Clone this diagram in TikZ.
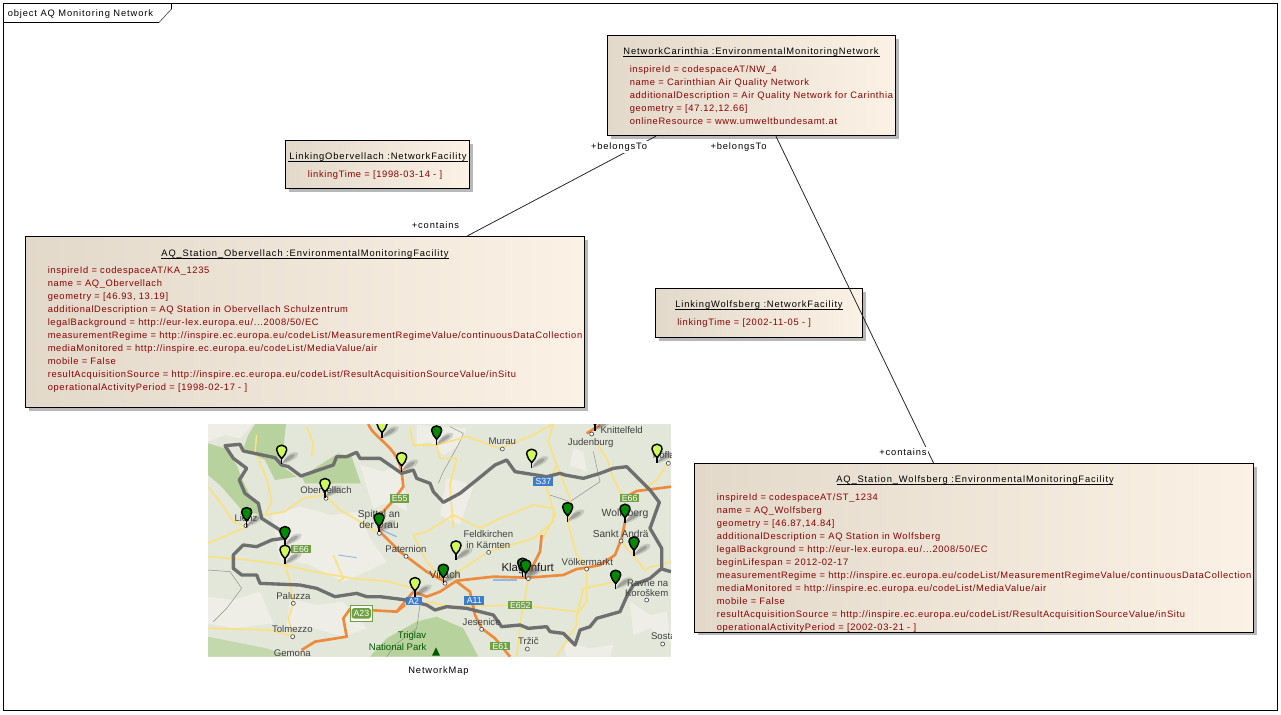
\documentclass[tikz,border=0pt]{standalone}
\usepackage{fontspec}
\setmainfont{Liberation Sans}
\newfontfamily\umlfont[LetterSpace=7]{Liberation Sans}
\newfontfamily\umltitle[LetterSpace=9.5]{Liberation Sans}
\usetikzlibrary{shadows}
\definecolor{attrred}{HTML}{8B0000}
\definecolor{boxL}{HTML}{E2D9CB}
\definecolor{boxM}{HTML}{F6EDDF}
\definecolor{boxR}{HTML}{FBF2E5}
\definecolor{mapbg}{HTML}{E2E7D9}
\definecolor{mappale}{HTML}{F3F1ED}
\definecolor{forest}{HTML}{B7D29C}
\definecolor{roady}{HTML}{FBE07E}
\definecolor{roado}{HTML}{EE8A3C}
\definecolor{border}{HTML}{6F6F6F}
\definecolor{pinY}{HTML}{CFFB5A}
\definecolor{pinG}{HTML}{008A00}
\definecolor{shieldG}{HTML}{6FA044}
\definecolor{shieldB}{HTML}{3D7CCB}
\tikzset{
 umlbox/.style={draw=black,line width=.8pt,inner sep=0pt,left color=boxL,middle color=boxM,right color=boxR,
   drop shadow={shadow xshift=2.4pt,shadow yshift=-2.4pt,opacity=1,fill=black!28}},
 titletext/.style={inner sep=0pt,anchor=base,font=\umltitle\fontsize{7}{9}\selectfont,text=black},
 attrtext/.style={inner sep=0pt,anchor=base west,font=\umlfont\fontsize{7}{9}\selectfont,text=attrred},
 rolelabel/.style={inner sep=1pt,fill=white,font=\umltitle\fontsize{7}{9}\selectfont,text=black},
 conn/.style={draw=black!85,line width=.6pt},
 placename/.style={inner sep=0pt,font=\fontsize{7.2}{8}\selectfont,text=black!75},
 shield/.style={inner sep=0pt,font=\fontsize{6.6}{8}\selectfont,text=white,minimum height=6.5pt},
 road/.style={draw=roady,line width=1.2pt,line join=round},
 hiway/.style={draw=roado,line width=2pt,line join=round},
 minor/.style={draw=black!45,line width=.35pt},
 town/.style={draw=black!70,fill=white,line width=.5pt},
 pale/.style={fill=mappale,fill opacity=.75}
}
\newcommand{\mappin}[3]{%
 \begin{scope}[shift={(#1,#2)}]
  \fill[black!65,opacity=.22] (0,0) .. controls (8,-22) and (30,-44) .. (50,-34) .. controls (52,-20) and (24,-6) .. (0,0) -- cycle;
  \fill[black!65,opacity=.35] (2,-4) .. controls (12,-20) and (26,-32) .. (40,-30) .. controls (40,-20) and (20,-10) .. (2,-4) -- cycle;
  \draw[line width=1.1pt,fill=#3] (0,-17) .. controls (-6,-26) and (-15,-32) .. (-15,-43) .. controls (-15,-62) and (15,-62) .. (15,-43) .. controls (15,-32) and (6,-26) .. (0,-17) -- cycle;
  \draw[line width=1.2pt] (0,-22) -- (0,0);
 \end{scope}}
\begin{document}
\begin{tikzpicture}[x=.75pt,y=-.75pt]
\useasboundingbox (0,0) rectangle (1281,714);
\fill[white] (0,0) rectangle (1281,714);
% frame
\draw[line width=.8pt] (3.5,3.5) rectangle (1277.5,710.5);
\draw[line width=.8pt] (3.5,22.5) -- (159,22.5);
\draw[line width=.6pt,black!60] (159,22.5) -- (171.5,9);
\draw[line width=.8pt] (171.5,9) -- (171.5,3.5);
\node[inner sep=0pt,anchor=base west,font=\umltitle\fontsize{7}{9}\selectfont] (frametitle) at (7.5,16) {object AQ Monitoring Network};

% boxes
\node[umlbox,minimum width=216.2pt,minimum height=75.1pt] (net) at (751.6,85.6) {};
\node[umlbox,minimum width=138pt,minimum height=36pt] (linkO) at (377.5,164.5) {};
\node[umlbox,minimum width=419.25pt,minimum height=128.25pt] (ober) at (305,322) {};
\node[umlbox,minimum width=155.25pt,minimum height=36.75pt] (linkW) at (759,313) {};
\node[umlbox,minimum width=419.25pt,minimum height=126.4pt] (wolf) at (974.4,547.8) {};

% connectors
\path[conn] (net) -- (ober);
\path[conn] (net) -- (wolf);
\node[rolelabel] (r1) at (619,147) {+belongsTo};
\node[rolelabel] (r2) at (738.5,147) {+belongsTo};
\node[rolelabel] (r3) at (435.5,225) {+contains};
\node[rolelabel] (r4) at (903,452) {+contains};

% net text
\node[titletext] (nt) at (751,54) {NetworkCarinthia :EnvironmentalMonitoringNetwork};
\draw[line width=.6pt] (623,56.5) -- (879.5,56.5);
\node[attrtext] (n1) at (629.5,72.3) {inspireId = codespaceAT/NW\_4};
\node[attrtext] (n2) at (629.5,85.3) {name = Carinthian Air Quality Network};
\node[attrtext] (n3) at (629.5,98.3) {additionalDescription = Air Quality Network for Carinthia};
\node[attrtext] (n4) at (629.5,111.3) {geometry = [47.12,12.66]};
\node[attrtext] (n5) at (629.5,124.3) {onlineResource = www.umweltbundesamt.at};

% linkO text
\node[titletext] (lot) at (378,159.3) {LinkingObervellach :NetworkFacility};
\draw[line width=.6pt] (288,161.5) -- (468,161.5);
\node[attrtext] (lo1) at (307.5,177) {linkingTime = [1998-03-14 - ]};

% linkW text
\node[titletext] (lwt) at (759,307) {LinkingWolfsberg :NetworkFacility};
\draw[line width=.6pt] (675,309.5) -- (843,309.5);
\node[attrtext] (lw1) at (677,325) {linkingTime = [2002-11-05 - ]};

% ober text
\node[titletext] (ot) at (305,256) {AQ\_Station\_Obervellach :EnvironmentalMonitoringFacility};
\draw[line width=.6pt] (161,258.5) -- (449,258.5);
\node[attrtext] (o1) at (47.5,273.3) {inspireId = codespaceAT/KA\_1235};
\node[attrtext] (o2) at (47.5,286.3) {name = AQ\_Obervellach};
\node[attrtext] (o3) at (47.5,299.3) {geometry = [46.93, 13.19]};
\node[attrtext] (o4) at (47.5,312.3) {additionalDescription = AQ Station in Obervellach Schulzentrum};
\node[attrtext] (o5) at (47.5,325.3) {legalBackground = http://eur-lex.europa.eu/...2008/50/EC};
\node[attrtext] (o6) at (47.5,338.3) {measurementRegime = http://inspire.ec.europa.eu/codeList/MeasurementRegimeValue/continuousDataCollection};
\node[attrtext] (o7) at (47.5,351.3) {mediaMonitored = http://inspire.ec.europa.eu/codeList/MediaValue/air};
\node[attrtext] (o8) at (47.5,364.3) {mobile = False};
\node[attrtext] (o9) at (47.5,377.3) {resultAcquisitionSource = http://inspire.ec.europa.eu/codeList/ResultAcquisitionSourceValue/inSitu};
\node[attrtext] (o10) at (47.5,390.3) {operationalActivityPeriod = [1998-02-17 - ]};

% wolf text
\node[titletext] (wt) at (975,482) {AQ\_Station\_Wolfsberg :EnvironmentalMonitoringFacility};
\draw[line width=.6pt] (837,484.5) -- (1113,484.5);
\node[attrtext] (w1) at (716.5,500) {inspireId = codespaceAT/ST\_1234};
\node[attrtext] (w2) at (716.5,513) {name = AQ\_Wolfsberg};
\node[attrtext] (w3) at (716.5,526) {geometry = [46.87,14.84]};
\node[attrtext] (w4) at (716.5,539) {additionalDescription = AQ Station in Wolfsberg};
\node[attrtext] (w5) at (716.5,552) {legalBackground = http://eur-lex.europa.eu/...2008/50/EC};
\node[attrtext] (w6) at (716.5,565) {beginLifespan = 2012-02-17};
\node[attrtext] (w7) at (716.5,578) {measurementRegime = http://inspire.ec.europa.eu/codeList/MeasurementRegimeValue/continuousDataCollection};
\node[attrtext] (w8) at (716.5,591) {mediaMonitored = http://inspire.ec.europa.eu/codeList/MediaValue/air};
\node[attrtext] (w9) at (716.5,604) {mobile = False};
\node[attrtext] (w10) at (716.5,617) {resultAcquisitionSource = http://inspire.ec.europa.eu/codeList/ResultAcquisitionSourceValue/inSitu};
\node[attrtext] (w11) at (716.5,630) {operationalActivityPeriod = [2002-03-21 - ]};

\node[inner sep=0pt,anchor=base,font=\umltitle\fontsize{7}{9}\selectfont] (maplabel) at (438.5,673) {NetworkMap};

% map
\begin{scope}[shift={(200,415)},x=.25pt,y=-.25pt]
 \clip (24,27) rectangle (1413,725);
 \fill[mapbg] (24,27) rectangle (1413,725);
 % pale patches
 \fill[pale] (215,300) -- (300,275) -- (395,300) -- (480,290) -- (510,370) -- (560,440) -- (500,470) -- (430,500) -- (330,450) -- (240,430) -- cycle;
 \fill[pale] (270,550) -- (350,570) -- (430,560) -- (500,640) -- (430,665) -- (340,640) -- (260,640) -- cycle;
 \fill[pale] (480,150) -- (550,170) -- (610,140) -- (620,290) -- (570,260) -- (520,280) -- cycle;
 \fill[pale] (740,190) -- (790,200) -- (820,215) -- (800,270) -- (780,330) -- (720,300) -- cycle;
 \fill[pale] (1120,100) -- (1150,110) -- (1160,170) -- (1110,150) -- cycle;
 \fill[pale] (1090,680) -- (1170,700) -- (1240,690) -- (1230,725) -- (1100,725) -- cycle;
 \fill[pale] (24,545) -- (100,555) -- (180,530) -- (220,625) -- (100,640) -- (24,625) -- cycle;
 \fill[pale] (1290,560) -- (1350,600) -- (1400,590) -- (1413,680) -- (1350,640) -- (1300,660) -- cycle;
 \fill[pale] (650,30) -- (800,40) -- (780,90) -- (730,120) -- (690,80) -- (650,90) -- cycle;
 \fill[pale] (24,27) -- (160,27) -- (120,70) -- (75,60) -- (24,80) -- cycle;
 % forest
 \fill[forest] (165,27) -- (258,27) -- (250,100) -- (240,150) -- (290,185) -- (225,195) -- (195,135) -- (165,120) -- (130,100) -- (145,60) -- cycle;
 \fill[forest] (305,185) -- (415,115) -- (455,125) -- (482,205) -- (315,205) -- cycle;
 \fill[forest] (24,85) -- (75,100) -- (110,150) -- (125,190) -- (150,240) -- (170,260) -- (190,300) -- (130,290) -- (60,210) -- (24,180) -- cycle;
 \fill[forest] (510,725) -- (560,670) -- (650,620) -- (710,605) -- (790,640) -- (835,725) -- cycle;
 \fill[forest!70!mapbg] (24,665) -- (200,700) -- (270,725) -- (24,725) -- cycle;
 % minor lines
 \draw[minor] (750,35) -- (790,55) -- (780,80) -- (730,170) -- (715,205);
 \draw[minor] (24,465) -- (90,470) -- (125,520) -- (80,580) -- (40,620);
 \draw[minor] (660,570) -- (650,640) -- (585,690) -- (560,725);
 \draw[minor] (1180,110) -- (1200,200) -- (1110,260) -- (1050,240);
 % yellow roads
 \draw[road] (24,215) -- (60,260) -- (100,320) -- (140,335) -- (60,370) -- (24,385);
 \draw[road] (170,60) -- (165,110) -- (200,190) -- (215,260) -- (195,300) -- (255,290) -- (310,250) -- (375,240) -- (420,285) -- (480,320) -- (530,350);
 \draw[road] (320,35) -- (340,85) -- (335,125);
 \draw[road] (24,425) -- (120,432) -- (255,450) -- (340,470) -- (470,492) -- (560,498) -- (640,520);
 \draw[road] (255,450) -- (270,500) -- (280,565) -- (265,610) -- (280,665) -- (210,645) -- (24,640);
 \draw[road] (400,420) -- (430,490) -- (415,500);
 \draw[road] (680,350) -- (760,300) -- (840,340) -- (900,310) -- (1000,270) -- (1060,280) -- (1060,320) -- (1000,370) -- (865,410) -- (745,490);
 \draw[road] (630,40) -- (640,90) -- (710,90) -- (720,130) -- (770,130) -- (750,210) -- (760,340);
 \draw[road] (710,90) -- (800,65) -- (900,100) -- (1000,60) -- (1060,27);
 \draw[road] (1060,27) -- (1045,80) -- (1070,150) -- (1110,250) -- (1105,330) -- (1130,420) -- (1160,460);
 \draw[road] (1070,150) -- (1040,220) -- (1065,300) -- (1030,370);
 \draw[road] (985,490) -- (965,600) -- (950,725);
 \draw[road] (1160,462) -- (1160,560) -- (1130,600) -- (1130,630) -- (1070,725);
 \draw[road] (1130,600) -- (1150,520) -- (1250,500);
 \draw[road] (680,560) -- (760,575) -- (960,570) -- (1130,590);
 \draw[road] (1195,90) -- (1220,130) -- (1240,190) -- (1265,240);
 \draw[road] (1400,150) -- (1370,195) -- (1340,215);
 \draw[road] (680,350) -- (640,360) -- (680,440) -- (735,505);
 \draw[road] (1340,460) -- (1413,440);
 \draw[road] (1263,378) -- (1340,470);
 % lake
 \draw[draw=shieldB!55,line width=1pt] (545,345) -- (590,365);
 \draw[draw=shieldB!55,line width=1pt] (880,495) -- (950,495);
 \draw[draw=shieldB!55,line width=.7pt] (415,420) -- (470,428);
 % highways
 \draw[hiway] (505,27) .. controls (520,70) and (590,90) .. (605,170) -- (610,215) -- (575,262) -- (540,300) -- (540,350) -- (600,410) -- (680,470) -- (735,500);
 \draw[hiway] (590,590) -- (640,530) -- (680,545) -- (720,530) -- (770,497) -- (880,485) -- (985,488) -- (1090,480) -- (1130,462) -- (1160,458) -- (1200,450) -- (1245,420) -- (1265,370) -- (1275,320);
 \draw[hiway] (1025,360) -- (1020,410) -- (990,470);
 \draw[hiway] (770,500) -- (810,530) -- (825,600) -- (845,640) -- (885,670) -- (930,725);
 \draw[hiway] (305,705) -- (345,680) -- (440,665) -- (430,610) -- (450,582) -- (590,590) -- (615,570);
 \draw[hiway] (1160,55) -- (1200,30);
 \draw[hiway] (1270,250) -- (1310,228) -- (1360,222) -- (1413,215);
 % border
 \draw[draw=border,line width=2.5pt,line join=round] (75,92) -- (120,88) -- (130,108) -- (225,128) -- (245,150) -- (265,155) -- (303,183) -- (400,150) -- (410,125) -- (440,125) -- (470,112) -- (480,130) -- (540,130) -- (605,175) -- (640,165) -- (650,190) -- (690,205) -- (700,230) -- (730,262) -- (780,235) -- (830,195) -- (885,150) -- (920,135) -- (945,170) -- (1040,185) -- (1080,175) -- (1095,180) -- (1150,190) -- (1200,175) -- (1240,160) -- (1280,155) -- (1350,225) -- (1378,262) -- (1350,340) -- (1385,400) -- (1385,460) -- (1350,490) -- (1300,510) -- (1280,545) -- (1260,590) -- (1190,610) -- (1170,635) -- (1140,645) -- (1125,690) -- (1090,655) -- (1050,650) -- (1040,635) -- (985,640) -- (960,630) -- (905,635) -- (880,600) -- (800,580) -- (740,575) -- (705,585) -- (680,570) -- (620,555) -- (540,545) -- (500,545) -- (470,535) -- (405,545) -- (350,520) -- (300,510) -- (180,505) -- (170,480) -- (125,480) -- (100,460) -- (100,420) -- (130,390) -- (170,395) -- (215,375) -- (250,370) -- (240,345) -- (185,310) -- (175,265) -- (135,235) -- (118,195) -- (140,160) -- (100,130) -- cycle;
 \draw[draw=border,line width=2.5pt] (1385,462) -- (1413,470);
 % towns
 \foreach \tx/\ty in {378/250,538/355,618/424,735/505,985/491,1160/462,1263/378,866/412,907/102,1175/57,1405/145,280/565,278/665,845/643,982/702,1340/555,1388/687,138/332}
   {\draw[town] (\tx,\ty) circle (6);}
 % shields
 \node[shield,fill=shieldG,minimum width=14.5pt] (sE55) at (599,250) {E55};
 \node[shield,fill=shieldG,minimum width=14.5pt] (sE66a) at (303,402) {E66};
 \node[shield,fill=shieldG,minimum width=14.5pt] (sE66b) at (1289,249) {E66};
 \node[shield,fill=shieldB,minimum width=15pt] (sS37) at (1030,200) {S37};
 \node[shield,fill=shieldB,minimum width=12pt] (sA2) at (641,558) {A2};
 \node[shield,fill=shieldB,minimum width=15pt] (sA11) at (823,556) {A11};
 \node[shield,fill=shieldG,minimum width=18pt] (sE652) at (961,570) {E652};
 \node[shield,fill=shieldG,minimum width=15pt] (sE61) at (901,693) {E61};
 \draw[shieldG,fill=white,line width=.5pt] (450,572) rectangle (518,618);
 \node[shield,fill=shieldG,rounded corners=2pt,minimum width=14.5pt,minimum height=8pt] (sA23) at (484,595) {A23};
 % tree
 \fill[green!35!black] (708,697) -- (720,722) -- (696,722) -- cycle;
 % place names
 \node[placename] (p1) at (1265,45) {Knittelfeld};
 \node[placename] (p2) at (907,80) {Murau};
 \node[placename] (p3) at (1172,85) {Judenburg};
 \node[placename] (p4) at (378,225) {Obervellach};
 \node[placename] (p5) at (138,310) {Lienz};
 \node[placename,font=\fontsize{7.6}{8}\selectfont] (p6) at (537,300) {Spittal an};
 \node[placename,font=\fontsize{7.6}{8}\selectfont] (p7) at (537,330) {der Drau};
 \node[placename] (p8) at (865,357) {Feldkirchen};
 \node[placename] (p9) at (865,390) {in Kärnten};
 \node[placename] (p10) at (618,402) {Paternion};
 \node[placename,font=\fontsize{8}{9}\selectfont] (p11) at (735,480) {Villach};
 \node[placename,font=\fontsize{8.6}{9}\selectfont,text=black!90] (p12) at (983,462) {Klagenfurt};
 \node[placename] (p13) at (1162,441) {Völkermarkt};
 \node[placename,font=\fontsize{7.8}{9}\selectfont] (p14) at (1275,297) {Wolfsberg};
 \node[placename,font=\fontsize{7.6}{9}\selectfont] (p15) at (1262,357) {Sankt Andrä};
 \node[placename] (p16) at (1343,505) {Ravne na};
 \node[placename] (p17) at (1340,535) {Koroškem};
 \node[placename] (p18) at (280,543) {Paluzza};
 \node[placename] (p19) at (277,642) {Tolmezzo};
 \node[placename] (p20) at (277,714) {Gemona};
 \node[placename] (p21) at (845,622) {Jesenice};
 \node[placename] (p22) at (985,678) {Tržič};
 \node[placename,text=green!35!black] (p23) at (636,663) {Triglav};
 \node[placename,text=green!35!black] (p24) at (593,695) {National Park};
 \node[placename] (p25) at (1390,665) {Sosta};
 \node[placename,anchor=west] (p26) at (1358,120) {Köflach};
 % pins
 \mappin{546}{70}{pinY}
 \mappin{245}{148}{pinY}
 \mappin{605}{170}{pinY}
 \mappin{375}{248}{pinY}
 \mappin{995}{160}{pinY}
 \mappin{1371}{145}{pinY}
 \mappin{255}{448}{pinY}
 \mappin{768}{435}{pinY}
 \mappin{645}{545}{pinY}
 \mappin{710}{90}{pinG}
 \mappin{1185}{47}{pinG}
 \mappin{140}{335}{pinG}
 \mappin{255}{392}{pinG}
 \mappin{537}{352}{pinG}
 \mappin{730}{505}{pinG}
 \mappin{968}{487}{pinG}
 \mappin{977}{492}{pinG}
 \mappin{1103}{320}{pinG}
 \mappin{1275}{325}{pinG}
 \mappin{1302}{423}{pinG}
 \mappin{1247}{523}{pinG}
\end{scope}
\end{tikzpicture}
\end{document}
